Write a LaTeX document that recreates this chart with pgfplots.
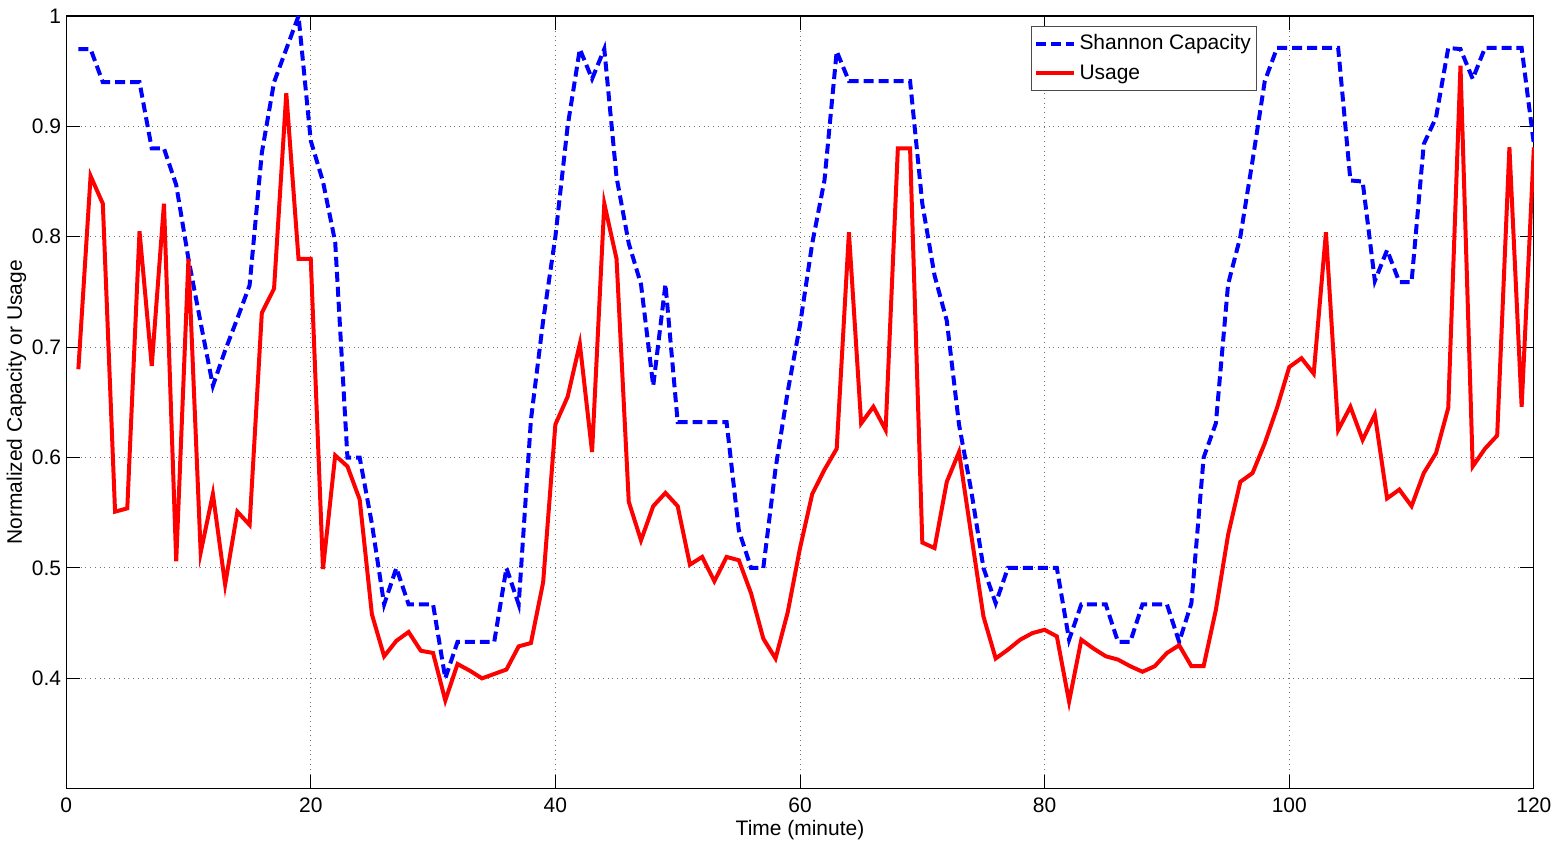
\documentclass[border=0pt]{standalone}
\usepackage{pgfplots}
\pgfplotsset{compat=1.18}
\usepackage{fontspec}
\setmainfont{Liberation Sans}
\begin{document}
\begin{tikzpicture}
\begin{axis}[
  scale only axis,
  width=735pt, height=387pt,
  xmin=0, xmax=120, ymin=0.3, ymax=1,
  xtick={0,20,...,120},
  ytick={0.4,0.5,0.6,0.7,0.8,0.9,1},
  yticklabels={0.4,0.5,0.6,0.7,0.8,0.9,1},
  tick align=inside,
  major tick length=7pt,
  xtick pos=both, ytick pos=both,
  tick style={black, line width=0.5pt},
  axis line style={black, line width=0.6pt},
  grid=major,
  major grid style={black!55, dotted, line width=0.5pt},
  /pgf/number format/assume math mode=true,
  ticklabel style={font=\fontsize{10.5}{12}\selectfont},
  xticklabel style={yshift=-1pt},
  yticklabel style={xshift=1pt},
  xlabel={Time (minute)},
  ylabel={Normalized Capacity or Usage},
  label style={font=\fontsize{10.5}{12}\selectfont},
  xlabel style={yshift=3pt},
  ylabel style={yshift=-4pt},
  legend style={at={(rel axis cs:0.8116,0.987)}, anchor=north east,
    draw=black!70, line width=0.5pt, font=\fontsize{10.5}{12}\selectfont,
    inner xsep=1pt, inner ysep=2pt, row sep=2pt},
  legend cell align=left,
  legend image code/.code={\draw[#1] (0pt,0pt) -- (19pt,0pt);},
]
\coordinate (sw) at (rel axis cs:0,0);
\coordinate (ne) at (rel axis cs:1,1);
\addplot[color={rgb,255:red,0;green,0;blue,255}, line width=2pt, dash pattern=on 5pt off 2.5pt] coordinates {
(1,0.97)(2,0.97)(3,0.94)(4,0.94)(5,0.94)(6,0.94)(7,0.88)(8,0.88)(9,0.847)(10,0.78)
(11,0.722)(12,0.665)(13,0.697)(14,0.726)(15,0.756)(16,0.876)(17,0.94)(18,0.97)(19,1.0)(20,0.887)
(21,0.85)(22,0.795)(23,0.6)(24,0.6)(25,0.54)(26,0.467)(27,0.5)(28,0.467)(29,0.467)(30,0.467)
(31,0.4)(32,0.433)(33,0.433)(34,0.433)(35,0.433)(36,0.5)(37,0.467)(38,0.634)(39,0.724)(40,0.8)
(41,0.9)(42,0.97)(43,0.943)(44,0.97)(45,0.854)(46,0.794)(47,0.757)(48,0.665)(49,0.757)(50,0.632)
(51,0.632)(52,0.632)(53,0.632)(54,0.632)(55,0.534)(56,0.5)(57,0.5)(58,0.59)(59,0.66)(60,0.72)
(61,0.794)(62,0.851)(63,0.968)(64,0.941)(65,0.941)(66,0.941)(67,0.941)(68,0.941)(69,0.941)(70,0.83)
(71,0.765)(72,0.724)(73,0.63)(74,0.57)(75,0.5)(76,0.468)(77,0.5)(78,0.5)(79,0.5)(80,0.5)
(81,0.5)(82,0.435)(83,0.467)(84,0.467)(85,0.467)(86,0.433)(87,0.433)(88,0.467)(89,0.467)(90,0.467)
(91,0.433)(92,0.468)(93,0.6)(94,0.631)(95,0.757)(96,0.8)(97,0.869)(98,0.941)(99,0.971)(100,0.971)
(101,0.971)(102,0.971)(103,0.971)(104,0.971)(105,0.851)(106,0.85)(107,0.76)(108,0.788)(109,0.759)(110,0.759)
(111,0.884)(112,0.908)(113,0.971)(114,0.97)(115,0.943)(116,0.971)(117,0.971)(118,0.971)(119,0.971)(120,0.884)
};
\addlegendentry{Shannon Capacity}
\addplot[color={rgb,255:red,255;green,0;blue,0}, line width=2pt] coordinates {
(1,0.68)(2,0.855)(3,0.83)(4,0.551)(5,0.554)(6,0.805)(7,0.683)(8,0.83)(9,0.506)(10,0.78)
(11,0.514)(12,0.567)(13,0.485)(14,0.551)(15,0.539)(16,0.731)(17,0.753)(18,0.93)(19,0.78)(20,0.78)
(21,0.499)(22,0.602)(23,0.592)(24,0.562)(25,0.458)(26,0.42)(27,0.434)(28,0.442)(29,0.425)(30,0.423)
(31,0.38)(32,0.413)(33,0.407)(34,0.4)(35,0.404)(36,0.408)(37,0.429)(38,0.432)(39,0.487)(40,0.63)
(41,0.655)(42,0.703)(43,0.605)(44,0.83)(45,0.78)(46,0.56)(47,0.525)(48,0.556)(49,0.568)(50,0.556)
(51,0.503)(52,0.51)(53,0.488)(54,0.51)(55,0.507)(56,0.477)(57,0.436)(58,0.418)(59,0.46)(60,0.518)
(61,0.567)(62,0.589)(63,0.608)(64,0.804)(65,0.631)(66,0.646)(67,0.625)(68,0.88)(69,0.88)(70,0.523)
(71,0.518)(72,0.578)(73,0.605)(74,0.53)(75,0.456)(76,0.418)(77,0.426)(78,0.435)(79,0.441)(80,0.444)
(81,0.438)(82,0.379)(83,0.435)(84,0.427)(85,0.42)(86,0.417)(87,0.411)(88,0.406)(89,0.411)(90,0.423)
(91,0.43)(92,0.411)(93,0.411)(94,0.462)(95,0.53)(96,0.578)(97,0.586)(98,0.613)(99,0.645)(100,0.682)
(101,0.69)(102,0.676)(103,0.804)(104,0.625)(105,0.646)(106,0.616)(107,0.639)(108,0.563)(109,0.571)(110,0.556)
(111,0.586)(112,0.604)(113,0.645)(114,0.955)(115,0.592)(116,0.608)(117,0.62)(118,0.881)(119,0.646)(120,0.881)
};
\addlegendentry{Usage}
\end{axis}
\path ([xshift=-33pt,yshift=-28pt]sw) rectangle ([xshift=11pt,yshift=8pt]ne);
\end{tikzpicture}
\end{document}
